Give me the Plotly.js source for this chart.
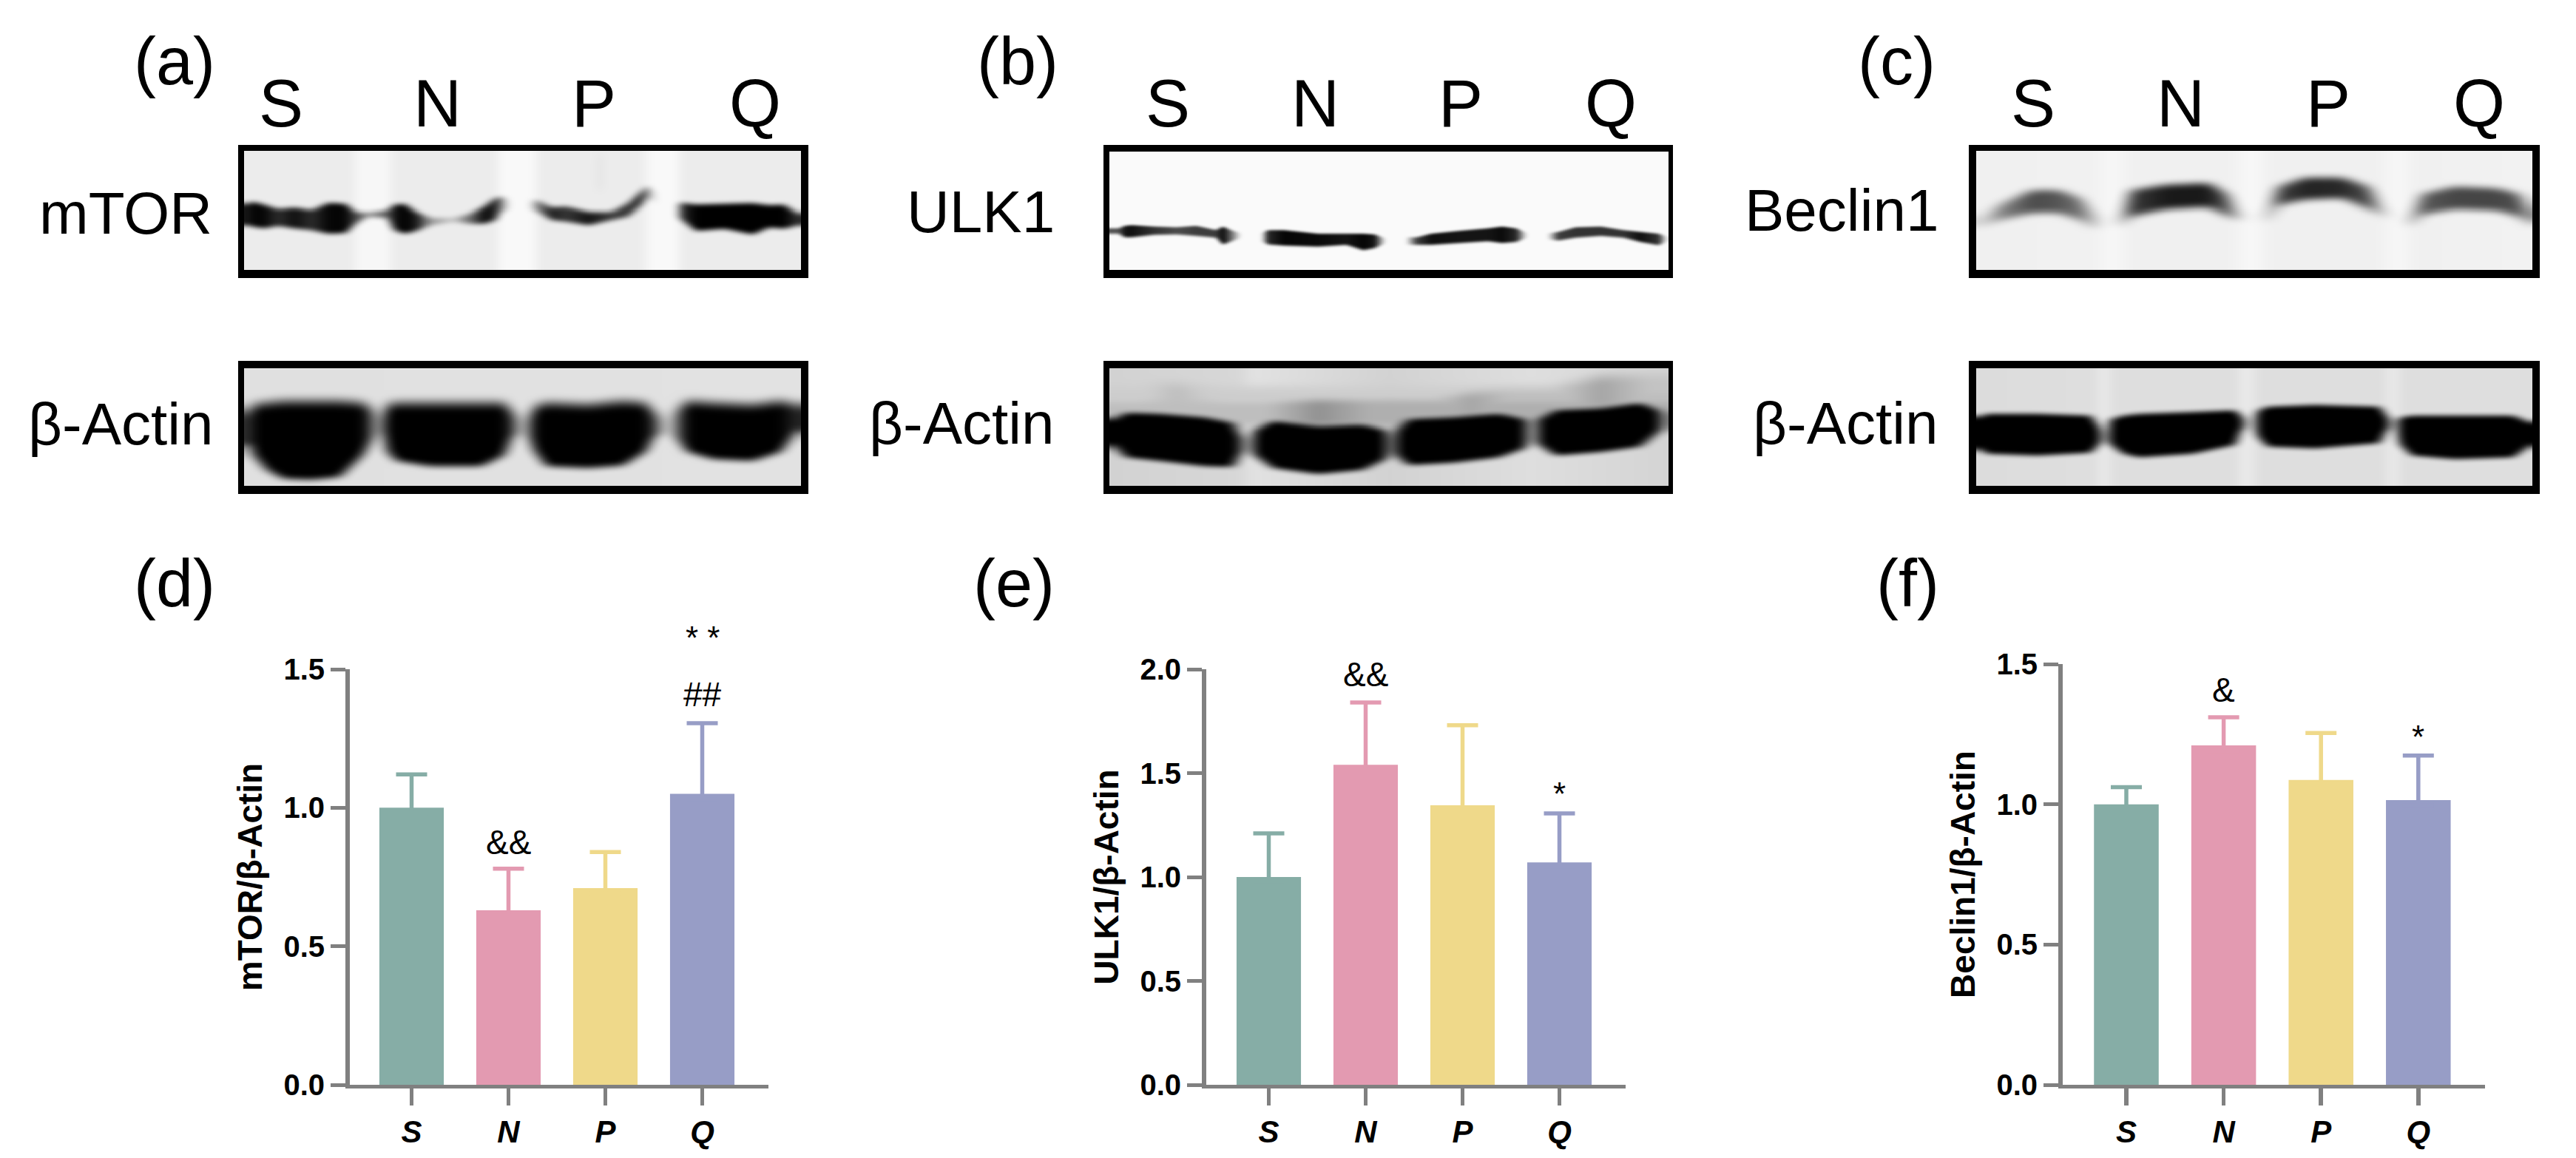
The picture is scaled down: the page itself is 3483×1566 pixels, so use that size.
<!DOCTYPE html>
<html><head><meta charset="utf-8"><script src="https://cdn.plot.ly/plotly-3.0.1.min.js"></script>
<style>html,body{margin:0;padding:0;background:#fff}</style></head><body><div id="c" style="width:3483px;height:1566px"></div>
<script>
const W=3483,H=1566;
const groups=['S','N','P','Q'];
const barColors=['#86ADA6','#E39AB1','#EFD98A','#979DC6'];
const capHide=0.02;
// bar heights and upper error tops
const mtorVals=[1.0,0.63,0.71,1.05];
const mtorTops=[1.12,0.78,0.84,1.305];
const ulkVals=[1.0,1.54,1.345,1.07];
const ulkTops=[1.21,1.84,1.73,1.306];
const becVals=[1.0,1.21,1.087,1.015];
const becTops=[1.061,1.31,1.254,1.174];
const mtorTicks=[0,0.5,1,1.5], ulkTicks=[0,0.5,1,1.5,2], becTicks=[0,0.5,1,1.5];

// blot bands: [x, top, bottom, grey] in gel crop units
const mtorBg=[[431,236],[622,236],[632,247],[685,247],[695,236],[875,236],[885,249],[942,249],[952,236],[1135,236],[1148,249],[1195,249],[1205,236],[1416,236]];
const mtorBand=[[433,570,625,30],[445,562,630,5],[465,570,635,5],[490,582,628,45],[520,578,635,15],[550,585,640,45],[580,565,650,5],[610,568,648,5],[628,590,622,70],[650,592,602,140],[684,585,606,90],[696,570,640,20],[715,568,650,0],[735,590,642,25],[760,606,626,150],[800,606,616,195],[830,595,622,110],[855,575,622,10],[875,552,612,35],[884,548,590,120],[900,560,580,255],[935,560,580,255],[950,558,590,130],[975,578,612,30],[1000,575,616,55],[1040,590,626,20],[1080,590,612,60],[1110,565,602,55],[1135,530,568,50],[1142,518,550,140],[1160,540,570,255],[1195,570,600,255],[1205,565,612,45],[1230,570,642,0],[1280,568,636,0],[1330,566,652,0],[1360,572,632,0],[1385,570,636,0],[1412,595,626,50]];
const mtorSmear=[[1045,430,520,255],[1060,430,530,222],[1075,430,520,255]];
const actinABg=[[431,224],[1416,226]];
const actinABand=[[440,1150,1240,60],[447,1130,1270,0],[470,1125,1310,0],[500,1120,1335,0],[550,1120,1338,0],[600,1120,1330,0],[640,1125,1270,0],[656,1140,1230,60],[668,1160,1200,235],[676,1160,1210,90],[684,1130,1260,0],[700,1125,1285,0],[760,1125,1300,0],[850,1125,1300,0],[890,1125,1270,0],[905,1150,1220,50],[922,1170,1200,235],[936,1160,1230,90],[945,1135,1260,0],[965,1125,1300,0],[1040,1130,1305,0],[1100,1120,1298,0],[1140,1125,1260,0],[1155,1150,1220,50],[1178,1170,1200,235],[1198,1140,1230,90],[1215,1120,1260,0],[1260,1125,1280,0],[1330,1130,1285,0],[1380,1120,1260,0],[1410,1130,1200,40]];
const ulkBg=[[392,250],[1380,250]];
const ulkBand=[[408,635,650,80],[418,628,660,20],[430,626,660,15],[470,630,653,50],[510,632,652,75],[545,628,656,60],[580,640,661,60],[592,630,680,10],[606,640,672,100],[625,650,660,255],[660,650,670,255],[672,640,680,40],[700,640,683,5],[760,650,686,10],[810,650,681,20],[840,650,696,5],[860,652,690,20],[880,665,675,255],[915,660,680,255],[935,660,681,60],[960,650,681,15],[1010,642,676,20],[1060,635,671,20],[1085,630,676,10],[1110,635,673,40],[1130,650,660,255],[1165,650,665,255],[1185,645,669,60],[1215,632,661,50],[1260,630,656,50],[1300,640,661,50],[1330,645,673,15],[1362,650,682,50],[1378,660,670,255]];
const actinBBg=[[392,210],[625,215],[640,226],[885,210],[1135,222],[1380,212]];
const actinBBand=[[396,1172,1240,0],[420,1152,1275,0],[480,1155,1285,0],[560,1165,1300,0],[610,1180,1302,0],[622,1210,1270,20],[634,1230,1250,215],[640,1230,1250,215],[648,1200,1270,0],[680,1175,1305,0],[760,1190,1322,0],[840,1185,1310,0],[880,1200,1280,0],[889,1230,1250,215],[892,1230,1250,215],[898,1200,1270,0],[920,1170,1297,0],[1000,1165,1290,0],[1080,1155,1275,0],[1125,1170,1250,0],[1136,1195,1225,215],[1143,1195,1225,215],[1150,1170,1240,0],[1180,1145,1270,0],[1260,1140,1260,0],[1330,1125,1245,0],[1362,1145,1205,0],[1375,1170,1185,215]];
const actinBSmearS=[[420,1070,1150,220],[510,1070,1160,190],[600,1090,1170,215]];
const actinBSmearN=[[670,1120,1190,190],[760,1115,1190,145],[850,1115,1190,175]];
const actinBSmearP=[[925,1120,1170,215],[1030,1095,1160,165],[1095,1085,1160,190]];
const actinBSmearQ=[[1170,1080,1150,205],[1260,1050,1140,165],[1345,1045,1130,195]];
const becBg=[[446,240],[672,241],[705,250],[725,240],[925,240],[960,250],[990,240],[1205,240],[1235,250],[1260,240],[1486,242]];
const becBand=[[458,605,630,215],[490,570,612,135],[550,530,592,75],[600,530,592,85],[640,552,612,115],[665,592,636,195],[690,610,625,255],[705,610,625,255],[716,600,630,190],[735,530,602,60],[800,515,582,25],[880,510,576,25],[915,540,602,90],[935,590,612,190],[955,600,610,255],[975,600,610,255],[990,590,616,190],[1010,520,572,70],[1060,495,556,35],[1130,495,552,40],[1180,520,582,80],[1205,580,602,190],[1225,600,612,255],[1245,600,620,255],[1258,600,630,190],[1280,540,597,90],[1340,520,582,70],[1420,525,586,70],[1460,540,602,80],[1482,590,626,170]];
const actinCBg=[[446,220],[670,222],[684,238],[700,222],[930,222],[952,238],[972,222],[1208,222],[1225,238],[1240,222],[1486,222]];
const actinCBand=[[449,1165,1250,0],[465,1155,1265,0],[560,1155,1270,0],[660,1160,1262,0],[675,1190,1240,0],[684,1210,1225,225],[688,1210,1225,225],[697,1170,1240,0],[720,1160,1265,0],[750,1155,1275,0],[850,1150,1265,0],[930,1145,1240,0],[941,1160,1200,0],[952,1175,1190,225],[962,1170,1190,225],[973,1145,1220,0],[990,1135,1245,0],[1080,1130,1250,0],[1200,1135,1235,0],[1213,1160,1200,0],[1224,1175,1190,225],[1228,1180,1195,225],[1238,1165,1240,0],[1260,1160,1270,0],[1340,1160,1280,0],[1450,1160,1275,0],[1484,1180,1240,0]];

const px=x=>x/W, py=y=>1-y/H;
const clamp01=t=>t<0?0:t>1?1:t;
const sm=t=>{t=clamp01(t);return t*t*(3-2*t)};
function lerp(stops,x,col){
  if(x<=stops[0][0])return stops[0][col];
  for(let i=1;i<stops.length;i++){
    if(x<=stops[i][0]){const a=stops[i-1],b=stops[i];return a[col]+(b[col]-a[col])*(x-a[0])/(b[0]-a[0]);}
  }
  return stops[stops.length-1][col];
}
function boxBlur(z,rx,ry){
  const R=z.length,C=z[0].length;
  for(let pass=0;pass<2;pass++){
    for(let r=0;r<R;r++){
      const s=z[r].slice();
      for(let c=0;c<C;c++){let t=0,n=0;for(let k=-rx;k<=rx;k++){const i=c+k;if(i>=0&&i<C){t+=s[i];n++;}}z[r][c]=t/n;}
    }
    for(let c=0;c<C;c++){
      const s=z.map(row=>row[c]);
      for(let r=0;r<R;r++){let t=0,n=0;for(let k=-ry;k<=ry;k++){const i=r+k;if(i>=0&&i<R){t+=s[i];n++;}}z[r][c]=t/n;}
    }
  }
  return z;
}
function gelTrace(g,i){
  const w=g.ix[1]-g.ix[0],h=g.yy.inner[1]-g.yy.inner[0];
  const cols=Math.round(w/1.5),rows=Math.round(h);
  const xs=[],ys=[],z=[];
  for(let c=0;c<cols;c++)xs.push(g.zx[0]+(g.zx[1]-g.zx[0])*c/(cols-1));
  for(let r=0;r<rows;r++)ys.push(g.zy[0]+(g.zy[1]-g.zy[0])*r/(rows-1));
  for(let r=0;r<rows;r++){
    const row=[];
    for(let c=0;c<cols;c++){
      const x=xs[c],y=ys[r];
      let v=lerp(g.bg,x,1);
      for(const L of g.layers){
        const t=lerp(L.s,x,1),b=lerp(L.s,x,2),d=lerp(L.s,x,3);
        const a=sm((y-t+L.st)/(2*L.st))*sm((b+L.sb-y)/(2*L.sb));
        const q=v*(1-a)+d*a;
        if(q<v)v=q;
      }
      row.push(v);
    }
    z.push(row);
  }
  boxBlur(z,g.blur[0],g.blur[1]);
  return {type:'heatmap',x:xs,y:ys,z,zmin:0,zmax:255,zsmooth:'best',showscale:false,hoverinfo:'skip',
    colorscale:[[0,'#000'],[1,'#fff']],xaxis:'x'+i,yaxis:'y'+i};
}
const topY={inner:[204,365],outer:[196,376]}, botY={inner:[498,657],outer:[488,668]};
const gels=[
 {ix:[330,1083],ox:[322,1093],yy:topY,zx:[431,1416],zy:[421,752],bg:mtorBg,blur:[4,2],layers:[{s:mtorBand,st:10,sb:10},{s:mtorSmear,st:25,sb:25}]},
 {ix:[330,1083],ox:[322,1093],yy:botY,zx:[431,1416],zy:[1028,1356],bg:actinABg,blur:[6,4],layers:[{s:actinABand,st:24,sb:6}]},
 {ix:[1500,2256],ox:[1492,2262],yy:{inner:[205,365],outer:[196,376]},zx:[392,1380],zy:[424,752],bg:ulkBg,blur:[2,1],layers:[{s:ulkBand,st:5,sb:6}]},
 {ix:[1500,2256],ox:[1492,2262],yy:botY,zx:[392,1380],zy:[1028,1356],bg:actinBBg,blur:[6,3],layers:[{s:actinBSmearS,st:25,sb:25},{s:actinBSmearN,st:18,sb:18},{s:actinBSmearP,st:22,sb:22},{s:actinBSmearQ,st:25,sb:25},{s:actinBBand,st:4,sb:4}]},
 {ix:[2672,3424],ox:[2662,3434],yy:topY,zx:[446,1486],zy:[421,752],bg:becBg,blur:[7,4],layers:[{s:becBand,st:10,sb:10}]},
 {ix:[2672,3424],ox:[2662,3434],yy:botY,zx:[446,1486],zy:[1028,1356],bg:actinCBg,blur:[5,3],layers:[{s:actinCBand,st:4,sb:4}]}
];

const panels=[
 {vals:mtorVals,tops:mtorTops,ticks:mtorTicks,ymax:1.5,title:'mTOR/β-Actin',L:473,R:1039,T:905,B:1467,c0:556.5,step:131,
  marks:[{t:'&&',i:1,y:0.875},{t:'##',i:3,y:1.41,s:46},{t:'* *',i:3,y:1.41,s:44,shift:76}]},
 {vals:ulkVals,tops:ulkTops,ticks:ulkTicks,ymax:2,title:'ULK1/β-Actin',L:1631,R:2198,T:905,B:1467,c0:1715.5,step:131,
  marks:[{t:'&&',i:1,y:1.975},{t:'*',i:3,y:1.4,s:44}]},
 {vals:becVals,tops:becTops,ticks:becTicks,ymax:1.5,title:'Beclin1/β-Actin',L:2789,R:3360,T:898,B:1467,c0:2875,step:131.6,
  marks:[{t:'&',i:1,y:1.408},{t:'*',i:3,y:1.24,s:44}]}
];

const data=[],layout={width:W,height:H,autosize:false,margin:{l:0,r:0,t:0,b:0},paper_bgcolor:'#fff',plot_bgcolor:'#fff',
  showlegend:false,barmode:'group',annotations:[],shapes:[],font:{family:'Liberation Sans, Arial, sans-serif',color:'#000'}};
const FONT='Liberation Sans, Arial, sans-serif';
panels.forEach((p,k)=>{
  const n=k===0?'':k+1, xa='xaxis'+n, ya='yaxis'+n;
  data.push({type:'bar',x:groups,y:p.vals,marker:{color:barColors,line:{width:0}},hoverinfo:'x+y',width:0.665,xaxis:'x'+n,yaxis:'y'+n});
  groups.forEach((g,i)=>{
    data.push({type:'scatter',mode:'markers',x:[g],y:[p.vals[i]],marker:{size:1,color:barColors[i],opacity:0},hoverinfo:'skip',xaxis:'x'+n,yaxis:'y'+n,cliponaxis:false,
      error_y:{type:'data',symmetric:false,array:[p.tops[i]-p.vals[i]],arrayminus:[capHide],visible:true,thickness:5.5,width:21,color:barColors[i]}});
  });
  layout[xa]={domain:[px(p.L),px(p.R)],anchor:'y'+n,type:'category',categoryorder:'array',categoryarray:groups,
    range:[(p.L-p.c0)/p.step,(p.R-p.c0)/p.step],showgrid:false,zeroline:false,showline:true,linecolor:'#808080',linewidth:5,
    ticks:'outside',ticklen:23,tickwidth:5.5,tickcolor:'#808080',
    tickfont:{family:FONT,size:42,color:'#000',weight:'bold',style:'italic'},fixedrange:true};
  layout[ya]={domain:[py(p.B),py(p.T)],anchor:'x'+n,range:[0,p.ymax],tickvals:p.ticks,ticktext:p.ticks.map(v=>v.toFixed(1)),
    showgrid:false,zeroline:false,showline:true,linecolor:'#808080',linewidth:6,ticks:'outside',ticklen:20,tickwidth:5,tickcolor:'#808080',
    tickfont:{family:FONT,size:40,color:'#000',weight:'bold'},fixedrange:true,
    title:{text:p.title,font:{family:FONT,size:46,color:'#000',weight:'bold'},standoff:16}};
  p.marks.forEach(m=>layout.annotations.push({xref:'x'+n,yref:'y'+n,x:groups[m.i],y:m.y,yshift:m.shift||0,text:m.t,showarrow:false,yanchor:'middle',xanchor:'center',
    font:{family:FONT,size:m.s||46,color:'#000'}}));
});
gels.forEach((g,j)=>{
  const n=j+4;
  data.push(gelTrace(g,n));
  layout['xaxis'+n]={domain:[px(g.ix[0]),px(g.ix[1])],range:g.zx,visible:false,anchor:'y'+n,fixedrange:true};
  layout['yaxis'+n]={domain:[py(g.yy.inner[1]),py(g.yy.inner[0])],range:[g.zy[1],g.zy[0]],visible:false,anchor:'x'+n,fixedrange:true};
  const box=(x0,x1,y0,y1)=>layout.shapes.push({type:'rect',xref:'paper',yref:'paper',x0:px(x0),x1:px(x1),y0:py(y1),y1:py(y0),fillcolor:'#000',line:{width:0},layer:'above'});
  box(g.ox[0],g.ox[1],g.yy.outer[0],g.yy.inner[0]);
  box(g.ox[0],g.ox[1],g.yy.inner[1],g.yy.outer[1]);
  box(g.ox[0],g.ix[0],g.yy.outer[0],g.yy.outer[1]);
  box(g.ix[1],g.ox[1],g.yy.outer[0],g.yy.outer[1]);
});
function txt(t,x,y,size,anchor){layout.annotations.push({xref:'paper',yref:'paper',x:px(x),y:py(y),text:t,showarrow:false,xanchor:anchor||'center',yanchor:'middle',font:{family:FONT,size,color:'#000'}});}
const panelLetters=[['(a)',236,83],['(b)',1376,83],['(c)',2564,83],['(d)',236,789],['(e)',1371,789],['(f)',2579,789]];
panelLetters.forEach(a=>txt(a[0],a[1],a[2],90));
const laneX=[[380,591,803,1021],[1579,1778,1975,2178],[2749,2948,3148,3352]];
laneX.forEach(r=>r.forEach((x,i)=>txt(groups[i],x,140,90)));
const rowLabels=[['mTOR',289,288],['β-Actin',291,573],['ULK1',1428,286],['β-Actin',1428,572],['Beclin1',2623,285],['β-Actin',2623,572]];
rowLabels.forEach(a=>txt(a[0],a[1],a[2],80,'right'));
Plotly.newPlot('c',data,layout,{staticPlot:true,displayModeBar:false});
</script></body></html>
